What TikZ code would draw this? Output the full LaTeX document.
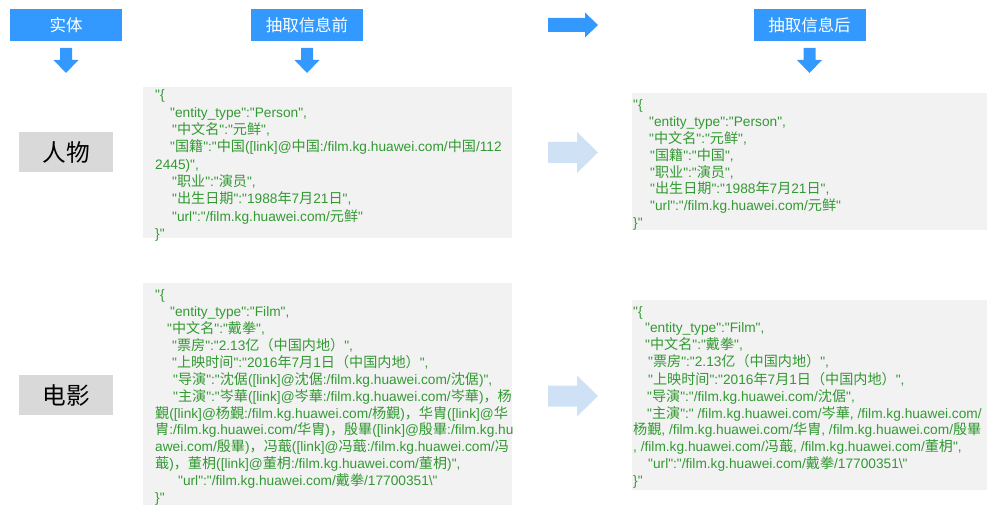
\documentclass[tikz,border=0pt]{standalone}
\usepackage{fontspec}
\setmainfont{Liberation Sans}[Ligatures=TeXOff]
\newfontfamily\cjk{Noto Sans CJK SC}[Scale=1.03]
\XeTeXinterchartokenstate=1
\newXeTeXintercharclass\CJKcls
\newcount\cjkc
\def\setcjkrange#1#2{\cjkc=#1 \loop\XeTeXcharclass\cjkc=\CJKcls \ifnum\cjkc<#2 \advance\cjkc by 1 \repeat}
\setcjkrange{"3000}{"303F}
\setcjkrange{"4E00}{"9FFF}
\setcjkrange{"FF00}{"FFEF}
\XeTeXinterchartoks 0 \CJKcls = {\begingroup\cjk}
\XeTeXinterchartoks 4095 \CJKcls = {\begingroup\cjk}
\XeTeXinterchartoks \CJKcls 0 = {\endgroup}
\XeTeXinterchartoks \CJKcls 4095 = {\endgroup}
\definecolor{hblue}{RGB}{51,153,255}
\definecolor{lblue}{RGB}{207,226,245}
\definecolor{gbox}{RGB}{217,217,217}
\definecolor{codebg}{RGB}{242,242,242}
\definecolor{codegreen}{RGB}{51,153,51}
\newcommand{\ind}[1]{\hspace*{#1pt}}
\newcommand{\bs}{\textbackslash}
\begin{document}
\begin{tikzpicture}[x=1pt,y=-1pt,
  hdr/.style={fill=hblue,text=white,minimum width=112pt,minimum height=32pt,inner sep=0,font=\fontsize{16}{18}\selectfont},
  ent/.style={fill=gbox,text=black,minimum width=94pt,minimum height=40pt,inner sep=0,font=\fontsize{23}{26}\selectfont},
  code/.style={anchor=base west,inner sep=0,text=codegreen},
  codebox/.style={fill=codebg},
  pics/darr/.style={code={\fill[hblue] (-6,0) -- (6,0) -- (6,12) -- (12.5,12) -- (0,25) -- (-12.5,12) -- (-6,12) -- cycle;}},
  pics/rarr/.style={code={\fill[hblue] (0,-7) -- (37,-7) -- (37,-12.5) -- (50,0) -- (37,12.5) -- (37,7) -- (0,7) -- cycle;}},
  pics/larr/.style={code={\fill[lblue] (0,-10.5) -- (29,-10.5) -- (29,-20.5) -- (50,0) -- (29,20.5) -- (29,10.5) -- (0,10.5) -- cycle;}}
]
\useasboundingbox (0,0) rectangle (987,505);
% headers
\node[hdr] (h1) at (66,25) {实体};
\node[hdr] (h2) at (307,25) {抽取信息前};
\node[hdr] (h3) at (809.5,25) {抽取信息后};
\pic at (66,48) {darr};
\pic at (307,48) {darr};
\pic at (809.5,48) {darr};
\pic at (548,25) {rarr};
% entity boxes
\node[ent] (e1) at (66,152) {人物};
\node[ent] (e2) at (66,395) {电影};
\pic at (548,152.5) {larr};
\pic at (548,396) {larr};
% code backgrounds
\fill[codebox] (143,87) rectangle (512,238);
\fill[codebox] (632,93) rectangle (987,230);
\fill[codebox] (143,283) rectangle (512,505);
\fill[codebox] (632,300) rectangle (987,490);
% top left
\node[code,font=\fontsize{13.7}{17.3}\selectfont] (tl) at (155,100) {\begin{tabular}[t]{@{}l@{}}
"\{\\
\ind{15}"entity\_type":"Person",\\
\ind{17}"中文名":"元鲜",\\
\ind{15}"国籍":"中国([link]@中国:/film.kg.huawei.com/中国/112\\
2445)",\\
\ind{17}"职业":"演员",\\
\ind{17}"出生日期":"1988年7月21日",\\
\ind{17}"url":"/film.kg.huawei.com/元鲜"\\
\}"
\end{tabular}};
% top right
\node[code,font=\fontsize{13.7}{16.7}\selectfont] (tr) at (633,109.5) {\begin{tabular}[t]{@{}l@{}}
"\{\\
\ind{16}"entity\_type":"Person",\\
\ind{16}"中文名":"元鲜",\\
\ind{17}"国籍":"中国",\\
\ind{17}"职业":"演员",\\
\ind{17}"出生日期":"1988年7月21日",\\
\ind{17}"url":"/film.kg.huawei.com/元鲜"\\
\}"
\end{tabular}};
% bottom left
\node[code,font=\fontsize{13.7}{16.67}\selectfont] (bl) at (155,299.5) {\begin{tabular}[t]{@{}l@{}}
"\{\\
\ind{15}"entity\_type":"Film",\\
\ind{12}"中文名":"戴拳",\\
\ind{17}"票房":"2.13亿（中国内地）",\\
\ind{17}"上映时间":"2016年7月1日（中国内地）",\\
\ind{18}"导演":"沈倨([link]@沈倨:/film.kg.huawei.com/沈倨)",\\
\ind{18}"主演":"岑華([link]@岑華:/film.kg.huawei.com/岑華)，杨\\
覲([link]@杨覲:/film.kg.huawei.com/杨覲)，华胄([link]@华\\
胄:/film.kg.huawei.com/华胄)，殷畢([link]@殷畢:/film.kg.hu\\
awei.com/殷畢)，冯蕺([link]@冯蕺:/film.kg.huawei.com/冯\\
蕺)，董枂([link]@董枂:/film.kg.huawei.com/董枂)",\\
\ind{23}"url":"/film.kg.huawei.com/戴拳/17700351\bs"\\
\}"
\end{tabular}};
% bottom right
\node[code,font=\fontsize{13.7}{16.84}\selectfont] (br) at (633,316) {\begin{tabular}[t]{@{}l@{}}
"\{\\
\ind{12}"entity\_type":"Film",\\
\ind{12}"中文名":"戴拳",\\
\ind{15}"票房":"2.13亿（中国内地）",\\
\ind{15}"上映时间":"2016年7月1日（中国内地）",\\
\ind{14}"导演":"/film.kg.huawei.com/沈倨",\\
\ind{14}"主演":" /film.kg.huawei.com/岑華, /film.kg.huawei.com/\\
杨覲, /film.kg.huawei.com/华胄, /film.kg.huawei.com/殷畢\\
, /film.kg.huawei.com/冯蕺, /film.kg.huawei.com/董枂",\\
\ind{15}"url":"/film.kg.huawei.com/戴拳/17700351\bs"\\
\}"
\end{tabular}};
\end{tikzpicture}
\end{document}
